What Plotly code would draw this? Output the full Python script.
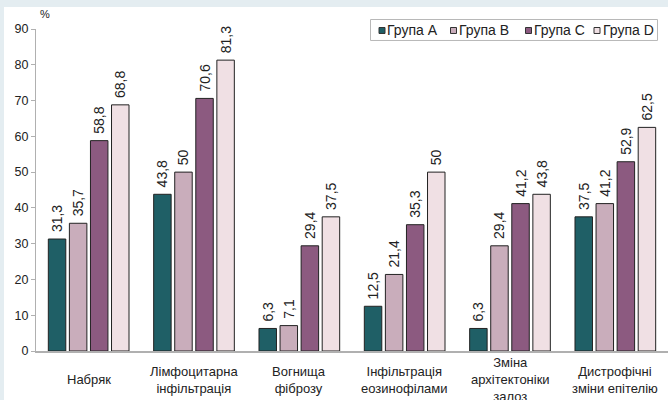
import plotly.graph_objects as go

categories = ["Набряк", "Лімфоцитарна<br>інфільтрація", "Вогнища<br>фіброзу",
              "Інфільтрація<br>еозинофілами", "Зміна<br>архітектоніки<br>залоз",
              "Дистрофічні<br>зміни епітелію"]
series_names = ["Група A", "Група B", "Група C", "Група D"]
group_a = [31.3, 43.8, 6.3, 12.5, 6.3, 37.5]
group_b = [35.7, 50, 7.1, 21.4, 29.4, 41.2]
group_c = [58.8, 70.6, 29.4, 35.3, 41.2, 52.9]
group_d = [68.8, 81.3, 37.5, 50, 43.8, 62.5]
y_ticks = [0, 10, 20, 30, 40, 50, 60, 70, 80, 90]

colors = ["#1f5f66", "#c9adbb", "#8c5a80", "#f0e0e4"]
FONT = "Liberation Sans, Arial, sans-serif"

def fmt(v):
    s = ("%g" % v)
    return " " + s.replace(".", ",")

fig = go.Figure()
for name, vals, col in zip(series_names, [group_a, group_b, group_c, group_d], colors):
    fig.add_trace(go.Bar(
        x=categories, y=vals, name=name,
        marker=dict(color=col, line=dict(color="#222222", width=1)),
        text=[fmt(v) for v in vals], textposition="outside", textangle=-90,
        constraintext="none",
        textfont=dict(size=14, color="#222222", family=FONT),
        cliponaxis=False, showlegend=False,
    ))

L, T, B = 36, 29, 48.5
W, H = 668, 400
pw, ph = W - L, H - T - B

def px(x):
    return (x - L) / pw

def py(y):
    return (H - B - y) / ph

shapes = [dict(type="rect", xref="paper", yref="paper", layer="below",
               x0=px(4), x1=px(W + 2), y0=py(H + 2), y1=py(7),
               fillcolor="white", line=dict(width=0)),
          dict(type="rect", xref="paper", yref="paper",
               x0=px(370.5), x1=px(657.5), y0=py(40.5), y1=py(19.5),
               fillcolor="white", line=dict(color="#b8b8b8", width=1))]

fig.update_layout(
    width=W, height=H,
    margin=dict(l=L, r=0, t=T, b=B),
    paper_bgcolor="#e4edf1",
    plot_bgcolor="rgba(0,0,0,0)",
    barmode="group", bargap=0.2, bargroupgap=0.17,
    font=dict(family=FONT, size=12, color="#222222"),
    showlegend=False,
    xaxis=dict(showticklabels=False, showline=True, linecolor="#b0b0b0", linewidth=1.5,
               ticks="", showgrid=False, zeroline=False),
    yaxis=dict(range=[0, 90], tickvals=y_ticks, showline=True, linecolor="#b0b0b0",
               linewidth=1, ticks="outside", ticklen=4, tickcolor="#b0b0b0",
               showgrid=False, zeroline=False, tickfont=dict(size=12.5, color="#222222")),
)

legend_sq_x = [379, 450.5, 525.5, 594]
for name, col, sx in zip(series_names, colors, legend_sq_x):
    shapes.append(dict(type="rect", xref="paper", yref="paper",
                       x0=px(sx), x1=px(sx + 6), y0=py(33.5), y1=py(27.5),
                       fillcolor=col, line=dict(color="#333333", width=1)))
    fig.add_annotation(x=px(sx + 6.5), xref="paper", y=py(30.5), yref="paper",
                       xanchor="left", yanchor="middle", text=name, showarrow=False,
                       font=dict(size=14, family=FONT, color="#222222"))
fig.update_layout(shapes=shapes)

for c in categories:
    fig.add_annotation(x=c, xref="x", y=-29 / ph, yref="paper", yanchor="middle",
                       text=c, showarrow=False, align="center",
                       font=dict(size=13, family=FONT, color="#222222"))

fig.add_annotation(x=px(38), xref="paper", y=py(14), yref="paper",
                   text="%", showarrow=False, xanchor="left", yanchor="middle",
                   font=dict(size=11, family=FONT, color="#222222"))

fig.write_html("out.html")
